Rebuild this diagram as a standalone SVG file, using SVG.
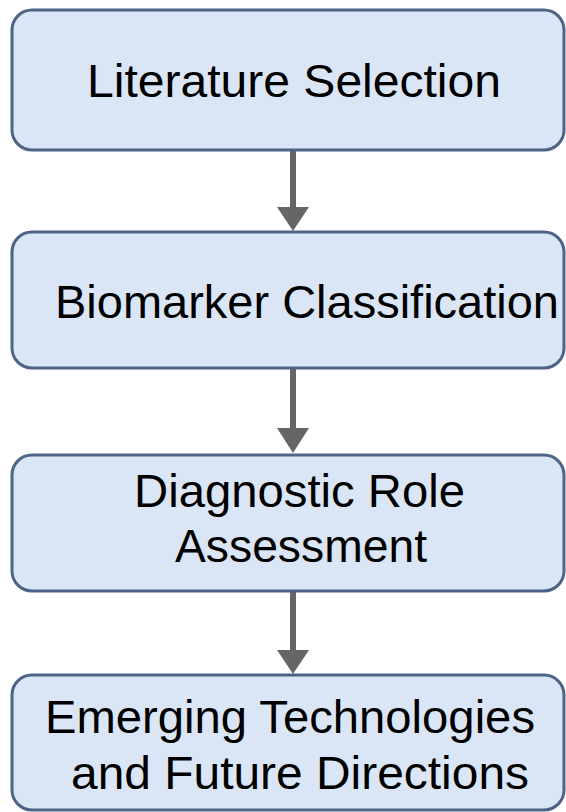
<svg xmlns="http://www.w3.org/2000/svg" width="566" height="812" viewBox="0 0 566 812">
<style>
.box{fill:#dae6f6;stroke:#4e6486;stroke-width:3}
.t{font-family:"Liberation Sans",Arial,sans-serif;font-size:46px;fill:#000}
.ln{stroke:#666;stroke-width:6;fill:none}
.hd{fill:#666}
</style>
<rect width="566" height="812" fill="#fff"/>
<g id="connectors">
<line class="ln" x1="293" y1="150" x2="293" y2="210"/>
<polygon class="hd" points="277,207 309,207 293,231"/>
<line class="ln" x1="293" y1="368" x2="293" y2="430"/>
<polygon class="hd" points="277,428 309,428 293,453"/>
<line class="ln" x1="293" y1="591" x2="293" y2="652"/>
<polygon class="hd" points="277,650 309,650 293,674"/>
</g>
<g id="n1">
<rect class="box" x="12" y="10" width="552" height="140" rx="20"/>
<text class="t" x="87" y="97" font-size="48" textLength="414" lengthAdjust="spacingAndGlyphs">Literature Selection</text>
</g>
<g id="n2">
<rect class="box" x="12" y="232" width="552" height="136" rx="20"/>
<text class="t" x="55" y="318" textLength="504" lengthAdjust="spacingAndGlyphs">Biomarker Classification</text>
</g>
<g id="n3">
<rect class="box" x="12" y="455" width="552" height="136" rx="20"/>
<text class="t" x="134" y="507" textLength="331" lengthAdjust="spacingAndGlyphs">Diagnostic Role</text>
<text class="t" x="175" y="562" textLength="252" lengthAdjust="spacingAndGlyphs">Assessment</text>
</g>
<g id="n4">
<rect class="box" x="12" y="675" width="552" height="135" rx="20"/>
<text class="t" x="45" y="733" textLength="490" lengthAdjust="spacingAndGlyphs">Emerging Technologies</text>
<text class="t" x="71" y="789" textLength="458" lengthAdjust="spacingAndGlyphs">and Future Directions</text>
</g>
</svg>
